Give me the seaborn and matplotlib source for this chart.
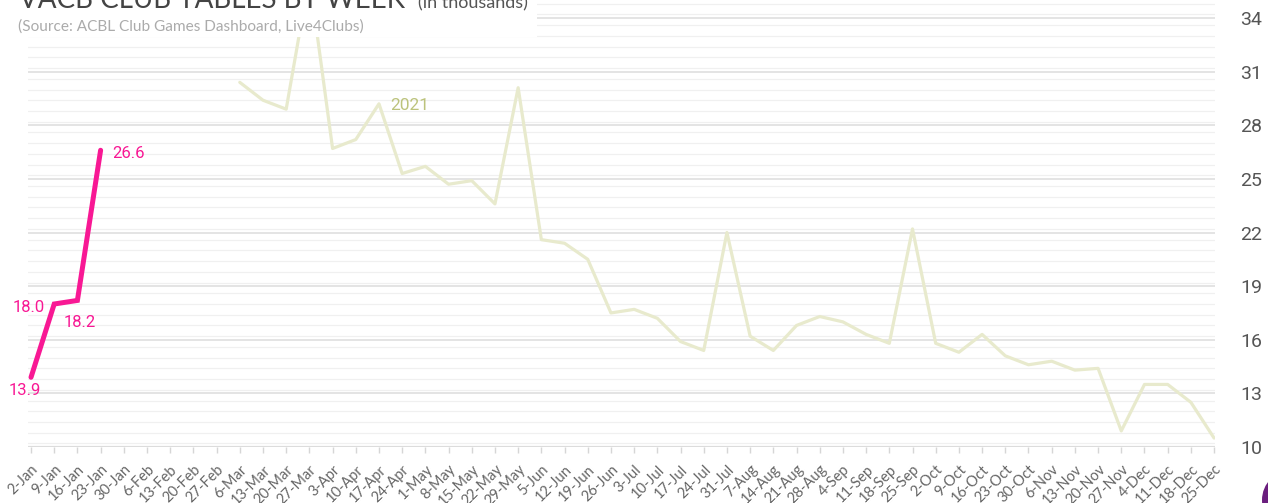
import numpy as np
import pandas as pd
import matplotlib
matplotlib.use("Agg")
import matplotlib.pyplot as plt
import seaborn as sns
from matplotlib.patches import Rectangle, Ellipse
from matplotlib.ticker import MultipleLocator

weeks = ["2-Jan", "9-Jan", "16-Jan", "23-Jan", "30-Jan", "6-Feb", "13-Feb", "20-Feb", "27-Feb",
         "6-Mar", "13-Mar", "20-Mar", "27-Mar", "3-Apr", "10-Apr", "17-Apr", "24-Apr",
         "1-May", "8-May", "15-May", "22-May", "29-May", "5-Jun", "12-Jun", "19-Jun", "26-Jun",
         "3-Jul", "10-Jul", "17-Jul", "24-Jul", "31-Jul", "7-Aug", "14-Aug", "21-Aug", "28-Aug",
         "4-Sep", "11-Sep", "18-Sep", "25-Sep", "2-Oct", "9-Oct", "16-Oct", "23-Oct", "30-Oct",
         "6-Nov", "13-Nov", "20-Nov", "27-Nov", "4-Dec", "11-Dec", "18-Dec", "25-Dec"]

weeks_2022 = ["2-Jan", "9-Jan", "16-Jan", "23-Jan"]
values_2022 = [13.9, 18.0, 18.2, 26.6]

weeks_2021 = weeks[9:]
values_2021 = [30.4, 29.4, 28.9, 36.3, 26.7, 27.2, 29.2, 25.3, 25.7, 24.7, 24.9, 23.6,
               30.1, 21.6, 21.4, 20.5, 17.5, 17.7, 17.2, 15.9, 15.4, 22.0, 16.2, 15.4,
               16.8, 17.3, 17.0, 16.3, 15.8, 22.2, 15.8, 15.3, 16.3, 15.1, 14.6, 14.8,
               14.3, 14.4, 10.9, 13.5, 13.5, 12.5, 10.5]

y_ticks = [10, 13, 16, 19, 22, 25, 28, 31, 34]

title = "VACB CLUB TABLES BY WEEK"
title_unit = "(in thousands)"
subtitle = "(Source: ACBL Club Games Dashboard, Live4Clubs)"

PINK = "#F81894"
OLIVE = "#E8EACD"
OLIVE_LABEL = "#BCC37C"

pos = {w: i for i, w in enumerate(weeks)}
df21 = pd.DataFrame({"x": [pos[w] for w in weeks_2021], "y": values_2021})
df22 = pd.DataFrame({"x": [pos[w] for w in weeks_2022], "y": values_2022})

sns.set_theme(style="white")
plt.rcParams["font.family"] = ["Roboto", "DejaVu Sans"]

W, H = 1268, 503
fig = plt.figure(figsize=(W / 100, H / 100), dpi=100)
ymin, ymax = 10, 37.0
px_per_unit = 17.875
ax_left_px, ax_right_px = 28, 1215
ax_bottom_px = 447
ax_h_px = (ymax - ymin) * px_per_unit
ax = fig.add_axes([ax_left_px / W, (H - ax_bottom_px) / H,
                   (ax_right_px - ax_left_px) / W, ax_h_px / H])

sns.lineplot(data=df21, x="x", y="y", ax=ax, color=OLIVE, linewidth=2.3, zorder=3)
sns.lineplot(data=df22, x="x", y="y", ax=ax, color=PINK, linewidth=3.6, zorder=4,
             solid_capstyle="round", solid_joinstyle="miter")

ax.set_xlim(-0.13, 51.04)
ax.set_ylim(ymin, ymax)
ax.set_xlabel("")
ax.set_ylabel("")

ax.set_xticks(range(len(weeks)))
ax.set_xticklabels(weeks, rotation=45, ha="right", rotation_mode="anchor",
                   fontsize=10.5, color="#666666", family=["Lato", "DejaVu Sans"])
ax.yaxis.set_major_locator(MultipleLocator(3))
ax.yaxis.set_minor_locator(MultipleLocator(0.6))
ax.set_yticks(y_ticks)
ax.yaxis.tick_right()
ax.tick_params(axis="y", which="both", length=0, pad=18, labelsize=14, labelcolor="#555555")
ax.tick_params(axis="x", which="major", length=4, width=1, color="#d6d6d6",
               direction="out", pad=7, bottom=True)
ax.grid(True, axis="y", which="major", color="#dcdcdc", linewidth=1.1, zorder=0)
ax.grid(True, axis="y", which="minor", color="#f0f0f0", linewidth=0.9, zorder=0)
ax.grid(False, axis="x")
for s in ax.spines.values():
    s.set_visible(False)
ax.axhline(10, color="#dcdcdc", linewidth=1.6, zorder=1)

# data labels
labels = [("13.9", (-6, -13), "center"), ("18.0", (-9, -3), "right"),
          ("18.2", (2, -22), "center"), ("26.6", (12, -3), "left")]
for (txt, off, ha), x, y in zip(labels, df22["x"], df22["y"]):
    ax.annotate(txt, (x, y), xytext=off, textcoords="offset pixels", ha=ha, va="center",
                color=PINK, fontsize=12, zorder=6)
ax.text(15.47, 29.13, "2021", color=OLIVE_LABEL, fontsize=12.5, ha="left", va="center", zorder=6)

# white title band (covers the top of the plot)
fig.patches.append(Rectangle((0, 1 - 37 / H), 537 / W, 37 / H, transform=fig.transFigure,
                             facecolor="white", edgecolor="none", zorder=5))
lato = ["Lato", "DejaVu Sans"]
t_title = fig.text(19 / W, 1 - 8 / H, title, fontsize=24, color="#444444", family=lato,
                   ha="left", va="baseline", zorder=6)
t_sub = fig.text(18 / W, 1 - 27 / H, subtitle, fontsize=11, color="#ababab", family=lato,
                 ha="left", va="center", zorder=6)
fig.canvas.draw()
r = fig.canvas.get_renderer()
w_t = t_title.get_window_extent(r).width
t_title.set_fontsize(24 * 387 / w_t)
w_s = t_sub.get_window_extent(r).width
t_sub.set_fontsize(11 * 347 / w_s)
fig.text(418 / W, 1 - 8 / H, title_unit, fontsize=13, color="#555555",
         family=lato, ha="left", va="baseline", zorder=6)

# partial purple badge at bottom right
fig.patches.append(Ellipse((1292 / W, 1 - 500 / H), 60 / W, 60 / H, transform=fig.transFigure,
                           facecolor="#6B1E7E", edgecolor="none", zorder=5))

fig.savefig("out.png", dpi=100)
